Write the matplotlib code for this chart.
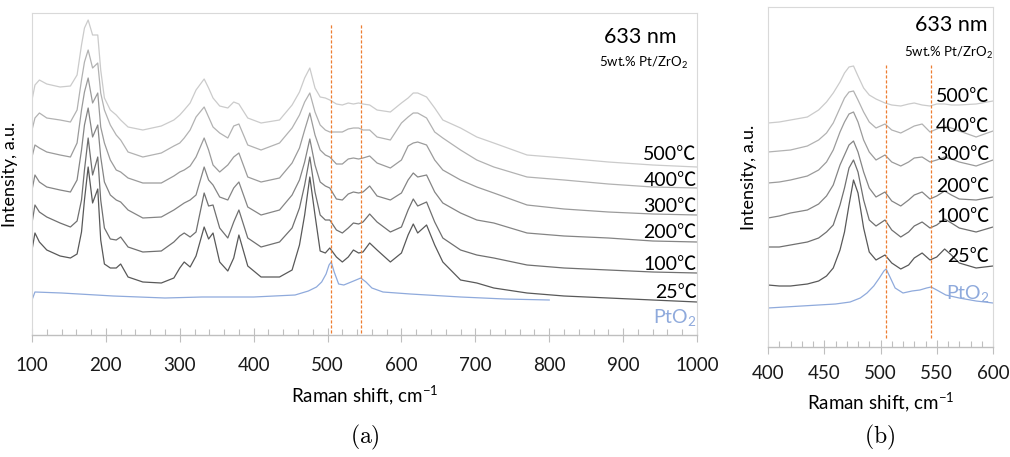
import numpy as np
import matplotlib
matplotlib.use("Agg")
from matplotlib import pyplot as plt
from matplotlib.ticker import MultipleLocator

plt.rcParams['font.family'] = ['Lato', 'Noto Sans CJK SC']
plt.rcParams['mathtext.fontset'] = 'custom'
plt.rcParams['mathtext.rm'] = 'Lato'
plt.rcParams['mathtext.default'] = 'rm'

# ---------------- data: panel (a), 100-1000 cm-1 ----------------
shift_a = [100, 104, 110, 120, 138, 152, 161, 167, 171, 176, 182, 189, 193, 198, 206, 214, 220,
           230, 250, 275, 292, 300, 306, 314, 322, 333, 339, 345, 354, 365, 373, 380, 392, 410,
           435, 452, 462, 469, 476, 483, 490, 497, 503, 512, 520, 528, 535, 542, 548, 557, 567,
           585, 600, 609, 616, 622, 634, 645, 656, 680, 702, 725, 770, 820, 880, 940, 1000]

a_25 = [85, 102, 93, 85, 79, 77, 81, 103, 135, 168, 132, 146, 95, 71, 67, 67, 71, 58, 53, 52,
        57, 67, 73, 68, 79, 108, 96, 102, 73, 64, 77, 100, 69, 58, 58, 65, 90, 120, 158, 120,
        84, 82, 87, 78, 73, 78, 85, 82, 83, 92, 85, 73, 82, 100, 111, 102, 110, 90, 73, 55,
        52, 47, 42, 39, 37, 35, 33]
a_100 = [112, 130, 123, 118, 112, 108, 114, 135, 165, 197, 160, 178, 135, 107, 96, 95, 98, 88, 83, 84,
         93, 99, 102, 98, 103, 142, 129, 130, 107, 97, 113, 125, 97, 88, 93, 107, 127, 150, 178, 143,
         120, 115, 115, 105, 102, 107, 112, 111, 113, 121, 113, 103, 108, 125, 136, 129, 133, 113, 97, 85,
         80, 77, 70, 67, 65, 63, 62]
a_200 = [145, 160, 153, 148, 145, 143, 155, 185, 210, 227, 198, 210, 178, 153, 140, 135, 133, 125, 117, 118,
         125, 129, 132, 135, 140, 168, 155, 150, 138, 135, 147, 153, 128, 120, 125, 140, 155, 173, 196, 170,
         153, 149, 147, 136, 135, 141, 143, 142, 143, 149, 139, 135, 142, 155, 162, 158, 160, 143, 132, 122,
         115, 112, 102, 99, 97, 94, 93]
a_300 = [178, 190, 187, 183, 180, 178, 192, 225, 243, 257, 232, 242, 208, 192, 175, 165, 163, 157, 152, 152,
         159, 163, 165, 169, 178, 197, 185, 170, 163, 170, 178, 182, 158, 153, 157, 172, 187, 205, 222, 200,
         185, 180, 178, 171, 171, 176, 177, 176, 177, 179, 172, 167, 175, 189, 192, 193, 190, 175, 165, 155,
         148, 142, 130, 126, 123, 121, 120]
a_400 = [205, 217, 222, 217, 215, 213, 225, 255, 273, 285, 267, 272, 242, 225, 210, 200, 195, 183, 178, 182,
         189, 192, 197, 205, 218, 228, 218, 208, 202, 197, 209, 211, 190, 185, 192, 207, 220, 233, 242, 223,
         210, 205, 203, 203, 203, 206, 207, 207, 205, 205, 198, 195, 212, 218, 222, 222, 217, 203, 197, 185,
         175, 168, 158, 155, 151, 148, 147]
a_500 = [235, 250, 255, 251, 248, 249, 260, 290, 307, 315, 300, 300, 265, 237, 225, 220, 215, 208, 205, 209,
         215, 220, 225, 232, 245, 256, 247, 237, 229, 227, 233, 231, 217, 212, 215, 230, 243, 257, 267, 247,
         238, 237, 235, 231, 230, 232, 231, 232, 231, 230, 225, 223, 232, 237, 242, 242, 238, 227, 215, 207,
         198, 192, 180, 177, 173, 170, 168]

shift_pto2_a = [100, 104, 140, 210, 280, 330, 400, 456, 474, 485, 492, 498, 502, 505, 509, 515, 522,
                532, 545, 552, 560, 575, 612, 680, 740, 800]
a_pto2 = [35, 43, 42, 39, 37, 38, 38, 40, 44, 48, 53, 61, 70, 73, 63, 51, 50, 53, 57, 53, 47, 43,
          41, 38, 36, 35]

# ---------------- data: panel (b), 400-600 cm-1 ----------------
shift_b = [400, 410, 420, 435, 445, 452, 458, 464, 468, 472, 476, 480, 485, 490, 496, 504, 510,
           518, 525, 530, 537, 544, 550, 557, 563, 570, 585, 600]
b_25 = [62, 61, 61, 63, 66, 71, 79, 97, 115, 142, 167, 154, 119, 95, 87, 92, 84, 78, 82, 89,
        94, 87, 90, 98, 92, 84, 79, 81]
b_100 = [100, 100, 102, 105, 109, 115, 122, 142, 159, 179, 187, 175, 147, 127, 121, 127, 117, 110,
         115, 121, 125, 119, 122, 128, 124, 119, 115, 120]
b_200 = [129, 131, 134, 137, 143, 151, 162, 182, 192, 202, 206, 195, 175, 159, 150, 155, 146, 141,
         147, 152, 155, 148, 151, 156, 152, 148, 147, 150]
b_300 = [164, 165, 167, 171, 177, 185, 197, 215, 225, 233, 235, 225, 207, 195, 187, 192, 185, 181,
         185, 189, 190, 185, 187, 190, 188, 185, 181, 187]
b_400 = [195, 196, 197, 201, 207, 214, 224, 239, 249, 255, 256, 247, 235, 225, 219, 223, 217, 214,
         218, 221, 223, 215, 218, 221, 219, 216, 210, 216]
b_500 = [224, 225, 227, 230, 237, 245, 254, 265, 274, 280, 281, 271, 259, 252, 248, 244, 242, 241,
         243, 244, 242, 241, 243, 243, 242, 242, 243, 246]

shift_pto2_b = [400, 430, 460, 473, 482, 488, 494, 499, 503, 505, 508, 513, 520, 528, 535, 541,
                545, 550, 558, 570, 585, 600]
b_pto2 = [39, 41, 43, 45, 49, 54, 61, 69, 76, 78, 71, 59, 54, 56, 57, 59, 60, 57, 52, 49, 46, 44]

pt_lines = [505, 545]
temps = ['25℃', '100℃', '200℃', '300℃', '400℃', '500℃']
grays = ['#595959', '#707070', '#858585', '#9b9b9b', '#b2b2b2', '#cbcbcb']

label_y_a = [42, 70, 102, 128, 155, 180]
label_y_b = [90, 130, 160, 192, 220, 250]

# ------------------------------------GRAPHS----------------------------#
fig = plt.figure(figsize=(10.1, 4.57), dpi=100)
ax_a = fig.add_axes([32 / 1010, 122 / 457, 665 / 1010, 322 / 457])
ax_b = fig.add_axes([768 / 1010, 110 / 457, 225 / 1010, 340 / 457])


def style_axes(ax, major, minor, pad):
    for s in ('top', 'right', 'left'):
        ax.spines[s].set_color('#d9d9d9')
        ax.spines[s].set_linewidth(0.8)
    ax.spines['bottom'].set_color('#bfbfbf')
    ax.spines['bottom'].set_linewidth(1.0)
    ax.set_yticks([])
    ax.xaxis.set_major_locator(MultipleLocator(major))
    ax.xaxis.set_minor_locator(MultipleLocator(minor))
    ax.tick_params(axis='x', which='major', direction='inout', length=10, width=0.8,
                   color='#bfbfbf', labelsize=13.5, pad=pad, labelcolor='#1a1a1a')
    ax.tick_params(axis='x', which='minor', direction='in', length=4, width=0.8, color='#bfbfbf')


# panel (a) -----------------------------------------------------------
series_a = [a_25, a_100, a_200, a_300, a_400, a_500]
for vals, col in zip(series_a, grays):
    ax_a.plot(shift_a, vals, color=col, lw=0.9)
ax_a.plot(shift_pto2_a, a_pto2, color='#8faadc', lw=0.9)
for x in pt_lines:
    ax_a.plot([x, x], [2, 311], color='#ed7d31', lw=0.9, linestyle=(0, (2.5, 1.5)), zorder=3)
ax_a.set_xlim(100, 1000)
ax_a.set_ylim(0, 322)
style_axes(ax_a, 100, 20, 11)
for t, yy in zip(temps, label_y_a):
    ax_a.text(1000, yy, t, ha='right', va='center', fontsize=14, clip_on=False)
ax_a.text(1000, 17, r'PtO$_2$', ha='right', va='center', fontsize=14, color='#8faadc', clip_on=False)
ax_a.text(972, 298, '633 nm', ha='right', va='center', fontsize=15.5)
ax_a.text(988, 272, r'5wt.% Pt/ZrO$_2$', ha='right', va='center', fontsize=9.5)
ax_a.set_xlabel(r'Raman shift, cm$^{-1}$', fontsize=13.5)
ax_a.xaxis.set_label_coords(0.5, -0.152)
ax_a.set_ylabel('Intensity, a.u.', fontsize=13)
ax_a.yaxis.set_label_coords(-0.021, 0.5)

# panel (b) -----------------------------------------------------------
series_b = [b_25, b_100, b_200, b_300, b_400, b_500]
for vals, col in zip(series_b, grays):
    ax_b.plot(shift_b, vals, color=col, lw=0.9)
ax_b.plot(shift_pto2_b, b_pto2, color='#8faadc', lw=0.9)
for x in pt_lines:
    ax_b.plot([x, x], [9, 282], color='#ed7d31', lw=0.9, linestyle=(0, (2.5, 1.5)), zorder=3)
ax_b.set_xlim(400, 600)
ax_b.set_ylim(0, 340)
style_axes(ax_b, 50, 10, 8)
for t, yy in zip(temps, label_y_b):
    ax_b.text(597, yy, t, ha='right', va='center', fontsize=14, clip_on=False)
ax_b.text(597, 54, r'PtO$_2$', ha='right', va='center', fontsize=14, color='#8faadc', clip_on=False)
ax_b.text(595.5, 322, '633 nm', ha='right', va='center', fontsize=15.5)
ax_b.text(600, 294, r'5wt.% Pt/ZrO$_2$', ha='right', va='center', fontsize=9.5, clip_on=False)
ax_b.set_xlabel(r'Raman shift, cm$^{-1}$', fontsize=13.5)
ax_b.xaxis.set_label_coords(0.5, -0.128)
ax_b.set_ylabel('Intensity, a.u.', fontsize=13)
ax_b.yaxis.set_label_coords(-0.049, 0.5)

fig.text(365 / 1010, 1 - 437 / 457, r'$\mathrm{(a)}$', math_fontfamily='cm', fontsize=17,
         ha='center', va='center')
fig.text(880 / 1010, 1 - 437 / 457, r'$\mathrm{(b)}$', math_fontfamily='cm', fontsize=17,
         ha='center', va='center')

plt.savefig("out.png", dpi=100)
